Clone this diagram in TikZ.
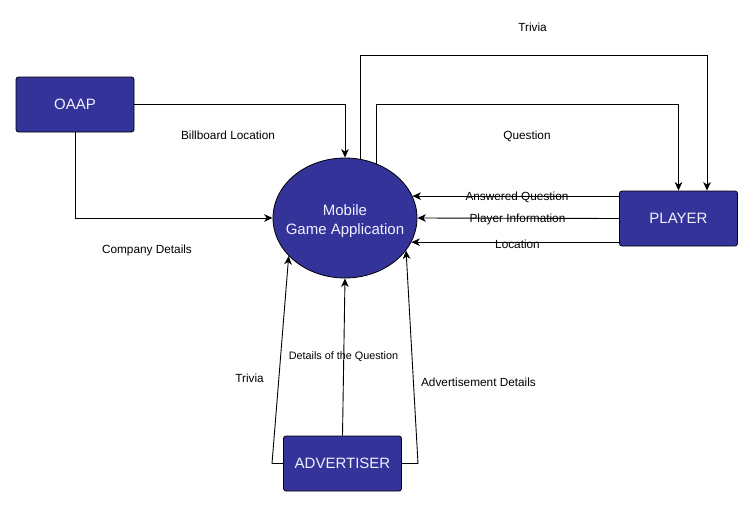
\documentclass[tikz,border=0pt]{standalone}
\usepackage{fontspec}
\setmainfont{Liberation Sans}
\usetikzlibrary{shapes.geometric,arrows.meta}
\definecolor{boxblue}{HTML}{333399}
\definecolor{boxtext}{HTML}{F0F0FF}
\begin{document}
\begin{tikzpicture}[x=1pt,y=-1pt,
  entity/.style={draw=black,line width=0.8pt,fill=boxblue,text=boxtext,rounded corners=2.5pt,
    minimum width=118pt,minimum height=55pt,inner sep=0pt,font=\fontsize{15}{18}\selectfont},
  proc/.style={ellipse,draw=black,line width=0.8pt,fill=boxblue,
    minimum width=144pt,minimum height=120pt,inner sep=0pt},
  proctext/.style={text=boxtext,inner sep=0pt,align=center,font=\fontsize{15}{19}\selectfont},
  flow/.style={draw=black,line width=0.9pt,-{Stealth[length=8.5pt,width=7.5pt,inset=2.5pt]}},
  lbl/.style={inner sep=0pt,font=\fontsize{11.8}{14}\selectfont},
  lblsmall/.style={inner sep=0pt,font=\fontsize{10.8}{13}\selectfont}]
\useasboundingbox (0,0) rectangle (753,506);
\fill[white] (0,0) rectangle (753,506);

\node[entity] (oaap) at (75,104.5) {OAAP};
\node[entity] (player) at (678.5,218.5) {PLAYER};
\node[entity] (adv) at (342.5,463.5) {ADVERTISER};
\node[proc] (app) at (345,218) {};
\node[proctext] (apptext) at ([yshift=-3pt]app.center) {Mobile\\Game Application};

\coordinate (trtop) at (0,55);
\coordinate (qtop) at (0,104);
\coordinate (advl) at (272,0);
\coordinate (advr) at (418,0);

% OAAP flows
\draw[flow] (oaap.east) -| (app.north);
\draw[flow] (oaap.south) |- (app.west);

% App to player
\draw[flow] (app.75.7) -- (app.75.7 |- trtop) -| ([xshift=28.5pt]player.north);
\draw[flow] (app.60.2) -- (app.60.2 |- qtop) -| (player.north);

% Player to app
\draw[flow] (player.west |- app.18.2) -- (app.18.2);
\draw[flow] (player.west) -- (app.east);
\draw[flow] (player.west |- app.-20.9) -- (app.-20.9);

% Advertiser to app
\draw[flow] (adv.west) -- (advl |- adv.west) -- (app.214);
\draw[flow] (adv.north) -- (app.south);
\draw[flow] (adv.east) -- (advr |- adv.east) -- (app.-28);

% labels
\node[lbl] (l1) at (228,135.5) {Billboard Location};
\node[lbl] (l2) at (147,250) {Company Details};
\node[lbl] (l3) at (532.5,27) {Trivia};
\node[lbl] (l4) at (527,136) {Question};
\node[lbl] (l5) at (517,197) {Answered Question};
\node[lbl] (l6) at (517.5,219.5) {Player Information};
\node[lbl] (l7) at (517.5,244.5) {Location};
\node[lbl] (l8) at (249.5,378) {Trivia};
\node[lblsmall] (l9) at (343.5,357) {Details of the Question};
\node[lbl] (l10) at (478.5,382) {Advertisement Details};
\end{tikzpicture}
\end{document}
